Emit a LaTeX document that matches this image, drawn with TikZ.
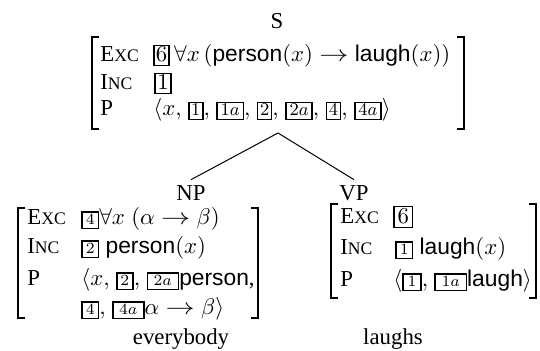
\RequirePackage{fix-cm}
\documentclass[tikz,border=0pt]{standalone}
\usepackage{fontspec}
\setmainfont{Liberation Serif}
\setsansfont{Liberation Sans}
\newcommand{\fsc}[2]{#1{\fontsize{8.8}{10}\selectfont #2}}
% \tgb[strut height]{digit size}{side pad}{content}
\newcommand{\tgb}[4][6.8pt]{{\setlength{\fboxsep}{0.45pt}\setlength{\fboxrule}{0.8pt}\fbox{\fontsize{#2}{#2}\selectfont\hspace{#3}\rule[-0.9pt]{0pt}{#1}$#4$\hspace{#3}}}}
\newcommand{\sfw}[1]{\mbox{\sffamily #1}}
\newcommand{\lto}{\mathrel{\scalebox{1.28}[1]{$\rightarrow$}}}
\begin{document}
\begin{tikzpicture}[x=0.5pt,y=-0.5pt,
  every node/.style={font=\fontsize{11.4}{13.7}\selectfont},
  brk/.style={line width=0.65pt},
  edge/.style={line width=0.5pt},
  lab/.style={anchor=base west,inner sep=0pt},
  val/.style={anchor=base west,inner sep=0pt},
  cat/.style={anchor=base,inner sep=0pt},
  word/.style={anchor=base,inner sep=0pt}]
\useasboundingbox (0,0) rectangle (540,351);
% S
\node[cat] (s) at (277,29) {S};
% top AVM
\draw[brk] (99,37) -- (92,37) -- (92,129) -- (99,129);
\draw[brk] (457,37) -- (464,37) -- (464,129) -- (457,129);
\node[lab] (sexcl) at (100,62) {\fsc{E}{XC}};
\node[lab] (sincl) at (100,90) {\fsc{I}{NC}};
\node[lab] (spl) at (100,116) {P};
\node[val] (sexc) at (153,62) {\tgb[8.2pt]{11.4}{0pt}{6}\hspace{2.2pt}$\forall x\,\bigl(\sfw{person}\bigl(x\bigr)\lto\sfw{laugh}\bigl(x\bigr)\bigr)$};
\node[val] (sinc) at (154,90) {\tgb[8.2pt]{11.4}{0.2pt}{1}};
\node[val] (sp) at (153,116) {$\langle x,\;$\tgb{9}{0.35pt}{1}$,\;$\tgb{9}{0.95pt}{1a}$,\;$\tgb{9}{0.35pt}{2}$,\;$\tgb{9}{0.95pt}{2a}$,\;$\tgb{9}{0.35pt}{4}$,\;$\tgb{9}{0.95pt}{4a}$\rangle$};
\coordinate (apex) at (278,133);
% NP / VP labels
\node[cat] (np) at (191,201) {NP};
\node[cat] (vp) at (354,201) {VP};
\draw[edge] (apex) -- ([yshift=3pt]np.north);
\draw[edge] (apex) -- ([yshift=3pt]vp.north);
% NP AVM
\draw[brk] (25,208) -- (18,208) -- (18,318) -- (25,318);
\draw[brk] (251,208) -- (258,208) -- (258,318) -- (251,318);
\node[lab] (npexcl) at (27,225) {\fsc{E}{XC}};
\node[lab] (npincl) at (27,254) {\fsc{I}{NC}};
\node[lab] (nppl) at (27,286) {P};
\node[val] (npexc) at (81,225) {\tgb[6.5pt]{7.8}{1pt}{4}$\forall x\;(\alpha\lto\beta)$};
\node[val] (npinc) at (81,254) {\tgb[6.5pt]{7.8}{1pt}{2}\;\sfw{person}$\bigl(x\bigr)$};
\node[val] (npp) at (81,286) {$\langle x,\;$\tgb[6.5pt]{7.8}{1pt}{2}$,\;$\tgb[6.5pt]{7.8}{2.3pt}{2a}\sfw{person},};
\node[val] (npp2) at (81,315) {\tgb[6.5pt]{7.8}{1pt}{4}$,\;$\tgb[6.5pt]{7.8}{2.3pt}{4a}$\alpha\lto\beta\rangle$};
% VP AVM
\draw[brk] (338,204) -- (331,204) -- (331,298) -- (338,298);
\draw[brk] (529,204) -- (536,204) -- (536,298) -- (529,298);
\node[lab] (vpexcl) at (340,224) {\fsc{E}{XC}};
\node[lab] (vpincl) at (340,255) {\fsc{I}{NC}};
\node[lab] (vppl) at (340,287) {P};
\node[val] (vpexc) at (393,224) {\tgb[8.8pt]{11.4}{0.9pt}{6}};
\node[val] (vpinc) at (395,255) {\tgb[6.5pt]{7.8}{1pt}{1}\;\sfw{laugh}$\bigl(x\bigr)$};
\node[val] (vpp) at (393,287) {$\langle$\tgb[6.5pt]{7.8}{1.4pt}{1}$,\;$\tgb[6.5pt]{7.8}{2.3pt}{1a}\sfw{laugh}$\rangle$};
% words
\node[word] (w1) at (181,345) {everybody};
\node[word] (w2) at (393,345) {laughs};
\end{tikzpicture}
\end{document}
